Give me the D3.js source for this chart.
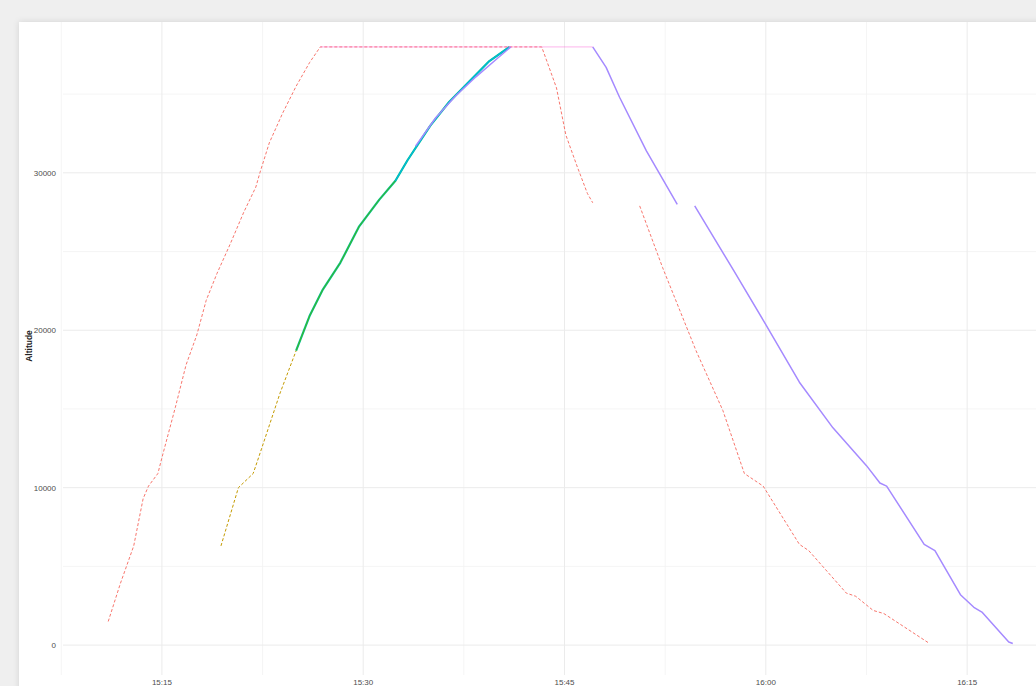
<!DOCTYPE html>
<html>
<head>
<meta charset="utf-8">
<script src="https://cdn.jsdelivr.net/npm/d3@7"></script>
<style>
  html, body { margin: 0; padding: 0; background: #f1f1f1; }
  svg { display: block; font-family: "Liberation Sans", Arial, sans-serif; }
</style>
</head>
<body>
<svg id="chart" width="1036" height="686"></svg>
<script>
// minutes after 15:00 and altitude in feet, null = gap in the track
const redMin = [11.0, 11.9, 12.9, 13.6, 14.0, 14.7, 15.0, 16.0, 16.8, 17.6, 18.3, 19.1, 20.1, 21.1, 22.0, 22.3, 23.0, 24.0, 25.0, 26.0, 26.8,
                43.3, 44.4, 45.1, 45.9, 46.7, 47.1, 48.5,
                50.6, 52.3, 54.8, 56.8, 58.4, 59.8, 62.5, 63.2, 66.0, 66.7, 68.0, 68.8, 72.2];
const redAlt = [1500, 3900, 6300, 9300, 10100, 10900, 11900, 15100, 17800, 19700, 21900, 23600, 25500, 27500, 29100, 30000, 31900, 33800, 35500, 37000, 38000,
                38000, 35400, 32400, 30500, 28700, 28100, null,
                27900, 24000, 18700, 14900, 10900, 10100, 6400, 6000, 3300, 3100, 2200, 2000, 100];

const oliveMin = [19.4, 20.7, 21.8, 22.2, 23.8, 25.0];
const oliveAlt = [6300, 10000, 10900, 11900, 16000, 18700];

const greenMin = [25.0, 26.0, 27.0, 28.3, 29.7, 31.2, 32.4];
const greenAlt = [18700, 20900, 22600, 24300, 26600, 28300, 29500];

const tealMin = [25.0, 26.0, 27.0, 28.3, 29.7, 31.2, 32.4, 33.3, 35.0, 36.4, 37.9, 39.4, 40.9];
const tealAlt = [18700, 20900, 22600, 24300, 26600, 28300, 29500, 30800, 33000, 34500, 35800, 37100, 38000];

const blueMin = [32.4, 33.3, 35.0, 36.4, 37.9, 39.4, 40.9];
const blueAlt = [29500, 30800, 33000, 34500, 35800, 37100, 38000];

const purpleMin = [33.9, 35.4, 36.9, 38.4, 39.9, 41.0, 44.0,
                   47.1, 48.1, 49.1, 51.1, 53.4, 54.0,
                   54.7, 57.6, 59.9, 62.5, 65.0, 67.5, 68.5, 69.0, 71.8, 72.6, 74.5, 75.5, 76.1, 78.1, 78.4];
const purpleAlt = [31700, 33500, 34900, 36100, 37200, 38000, null,
                   38000, 36700, 34800, 31400, 28000, null,
                   27900, 23800, 20500, 16700, 13800, 11400, 10300, 10100, 6400, 6000, 3200, 2400, 2100, 200, 100];

const pinkMin = [26.8, 47.1];
const pinkAlt = [38000, 38000];

const yTicks = [0, 10000, 20000, 30000];
const yMinor = [5000, 15000, 25000, 35000];
const xTickMin = [15, 30, 45, 60, 75];

const base = new Date(2020, 0, 1, 15, 0, 0);
const toDate = m => new Date(base.getTime() + m * 60000);
const zip = (ms, as) => ms.map((m, i) => ({ t: toDate(m), alt: as[i] }));

const series = [
  { id: "red", pts: zip(redMin, redAlt), color: "#F8766D", width: 1, dash: "3,2" },
  { id: "olive", pts: zip(oliveMin, oliveAlt), color: "#C49A00", width: 1, dash: "3,2" },
  { id: "teal", pts: zip(tealMin, tealAlt), color: "#00C094", width: 2.2, dash: null },
  { id: "green", pts: zip(greenMin, greenAlt), color: "#53B400", width: 1, dash: null, opacity: 0.8 },
  { id: "blue", pts: zip(blueMin, blueAlt), color: "#00B6EB", width: 1.2, dash: null, opacity: 0.85 },
  { id: "purple", pts: zip(purpleMin, purpleAlt), color: "#A58AFF", width: 1.5, dash: null },
  { id: "pink", pts: zip(pinkMin, pinkAlt), color: "#FB61D7", width: 0.8, dash: null, opacity: 0.6 }
];

const W = 1036, H = 686;
const panel = { left: 63, right: 1058, top: 17, bottom: 675 };

const svg = d3.select("#chart");

// soft frame around the white page
const defs = svg.append("defs");
defs.append("filter").attr("id", "shadow")
  .attr("x", "-5%").attr("y", "-5%").attr("width", "110%").attr("height", "110%")
  .append("feDropShadow")
  .attr("dx", 0).attr("dy", 0).attr("stdDeviation", 3)
  .attr("flood-color", "#000").attr("flood-opacity", 0.12);
defs.append("clipPath").attr("id", "page")
  .append("rect").attr("x", 19).attr("y", 22).attr("width", W).attr("height", H);

svg.append("rect").attr("width", W).attr("height", H).attr("fill", "#efefef");
svg.append("rect").attr("x", 19).attr("y", 22).attr("width", W).attr("height", H)
  .attr("fill", "#fff").attr("filter", "url(#shadow)");

// x domain = data range plus 5% on each side
const allT = series.flatMap(s => s.pts.map(p => p.t.getTime()));
const tMin = d3.min(allT), tMax = d3.max(allT);
const tPad = (tMax - tMin) * 0.05;
const x = d3.scaleTime()
  .domain([new Date(tMin - tPad), new Date(tMax + tPad)])
  .range([panel.left, panel.right]);

const aMax = 38000, aMin = 0, aPad = (aMax - aMin) * 0.05;
const y = d3.scaleLinear()
  .domain([aMin - aPad, aMax + aPad])
  .range([panel.bottom, panel.top]);

const g = svg.append("g").attr("clip-path", "url(#page)");

// minor grid
const xMinor = xTickMin.map(m => m - 7.5).concat([82.5]);
g.selectAll(".vminor").data(xMinor).enter().append("line")
  .attr("x1", d => x(toDate(d))).attr("x2", d => x(toDate(d)))
  .attr("y1", panel.top).attr("y2", panel.bottom)
  .attr("stroke", "#f2f2f2").attr("stroke-width", 0.8);
g.selectAll(".hminor").data(yMinor).enter().append("line")
  .attr("x1", panel.left).attr("x2", panel.right)
  .attr("y1", d => y(d)).attr("y2", d => y(d))
  .attr("stroke", "#f2f2f2").attr("stroke-width", 0.8);

// major grid
g.selectAll(".vmajor").data(xTickMin).enter().append("line")
  .attr("x1", d => x(toDate(d))).attr("x2", d => x(toDate(d)))
  .attr("y1", panel.top).attr("y2", panel.bottom)
  .attr("stroke", "#ebebeb").attr("stroke-width", 1);
g.selectAll(".hmajor").data(yTicks).enter().append("line")
  .attr("x1", panel.left).attr("x2", panel.right)
  .attr("y1", d => y(d)).attr("y2", d => y(d))
  .attr("stroke", "#ebebeb").attr("stroke-width", 1);

// tracks
const line = d3.line()
  .defined(d => d.alt !== null)
  .x(d => x(d.t))
  .y(d => y(d.alt));

g.selectAll(".track").data(series).enter().append("path")
  .attr("class", "track")
  .attr("d", s => line(s.pts))
  .attr("fill", "none")
  .attr("stroke", s => s.color)
  .attr("stroke-width", s => s.width)
  .attr("stroke-dasharray", s => s.dash)
  .attr("stroke-opacity", s => s.opacity || 1)
  .attr("stroke-linejoin", "round");

// axis labels
const fmt = d3.timeFormat("%H:%M");
svg.selectAll(".xlab").data(xTickMin).enter().append("text")
  .attr("x", d => x(toDate(d))).attr("y", 685)
  .attr("text-anchor", "middle")
  .attr("font-size", 8).attr("fill", "#4d4d4d")
  .text(d => fmt(toDate(d)));

svg.selectAll(".ylab").data(yTicks).enter().append("text")
  .attr("x", 56).attr("y", d => y(d) + 3)
  .attr("text-anchor", "end")
  .attr("font-size", 8).attr("fill", "#4d4d4d")
  .text(d => d);

svg.append("text")
  .attr("transform", `translate(32, ${(panel.top + panel.bottom) / 2}) rotate(-90)`)
  .attr("text-anchor", "middle")
  .attr("font-size", 8.5).attr("font-weight", "bold").attr("fill", "#222")
  .text("Altitude");
</script>
</body>
</html>
